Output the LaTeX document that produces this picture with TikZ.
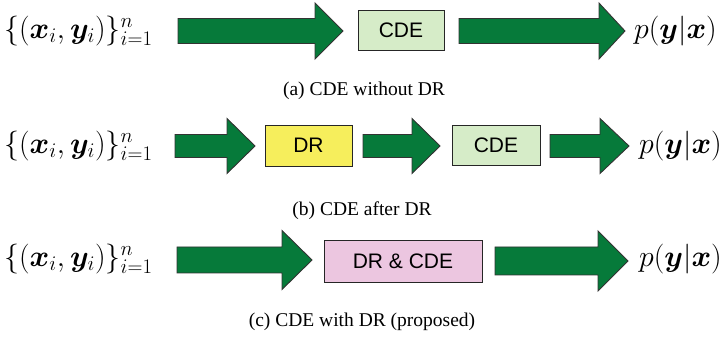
\documentclass[tikz,border=0pt]{standalone}
\usepackage{bm}
\usepackage{fontspec}
\setmainfont{Liberation Serif}
\newfontfamily\boxfont{Liberation Sans}
\DeclareMathSizes{24.88}{24.88}{17.28}{12}
\definecolor{arrowgreen}{RGB}{6,122,58}
\definecolor{cdegreen}{RGB}{214,236,200}
\definecolor{dryellow}{RGB}{246,238,92}
\definecolor{bothpink}{RGB}{236,198,224}
\tikzset{
  procbox/.style={draw=black!85, line width=0.9pt, inner sep=0pt, font=\boxfont\fontsize{21}{24}\selectfont},
  mathtext/.style={inner sep=0pt, font=\fontsize{24.88}{28}\selectfont, scale=1.2, transform shape},
  captext/.style={inner sep=0pt, font=\fontsize{19.5}{22}\selectfont},
  blockarrow/.style={fill=arrowgreen, draw=black!80, line width=0.9pt, line join=miter}
}
% #1 shaft start, #2 head start, #3 tip, #4 centre y, #5 shaft half height, #6 head half height
\newcommand{\bigarrow}[6]{%
  \draw[blockarrow] (#1,#4-#5) -- (#2,#4-#5) -- (#2,#4-#6) -- (#3,#4) -- (#2,#4+#6) -- (#2,#4+#5) -- (#1,#4+#5) -- cycle;}
\begin{document}
\begin{tikzpicture}[x=1pt,y=-1pt]
\useasboundingbox (0,0) rectangle (724,339);
% row a
\node[mathtext, anchor=west] (ina) at (4,31) {$\{(\bm{x}_i,\bm{y}_i)\}_{i=1}^{n}$};
\bigarrow{178}{315}{343}{31}{12.5}{28}
\node[procbox, fill=cdegreen, minimum width=86pt, minimum height=40pt] (cdea) at (401,30) {CDE};
\bigarrow{459}{599}{625}{31}{12.5}{28}
\node[mathtext, anchor=west] (outa) at (634,31) {$p(\bm{y}|\bm{x})$};
\node[captext] (capa) at (364,91) {(a) CDE without DR};
% row b
\node[mathtext, anchor=west] (inb) at (4,146) {$\{(\bm{x}_i,\bm{y}_i)\}_{i=1}^{n}$};
\bigarrow{175}{227}{255}{146}{11.5}{27.5}
\node[procbox, fill=dryellow, minimum width=87pt, minimum height=41pt] (drb) at (308.5,145.5) {DR};
\bigarrow{363}{412}{440}{146}{11.5}{27.5}
\node[procbox, fill=cdegreen, minimum width=88pt, minimum height=40pt] (cdeb) at (496,145) {CDE};
\bigarrow{550}{600}{629}{146}{11.5}{27.5}
\node[mathtext, anchor=west] (outb) at (639,146) {$p(\bm{y}|\bm{x})$};
\node[captext] (capb) at (362,211) {(b) CDE after DR};
% row c
\node[mathtext, anchor=west] (inc) at (4,259) {$\{(\bm{x}_i,\bm{y}_i)\}_{i=1}^{n}$};
\bigarrow{177}{282}{312}{260}{13}{29.5}
\node[procbox, fill=bothpink, minimum width=158pt, minimum height=42pt] (both) at (403,261) {DR \& CDE};
\bigarrow{495}{598}{628}{261}{14}{30}
\node[mathtext, anchor=west] (outc) at (639,259) {$p(\bm{y}|\bm{x})$};
\node[captext] (capc) at (362,322) {(c) CDE with DR (proposed)};
\end{tikzpicture}
\end{document}
